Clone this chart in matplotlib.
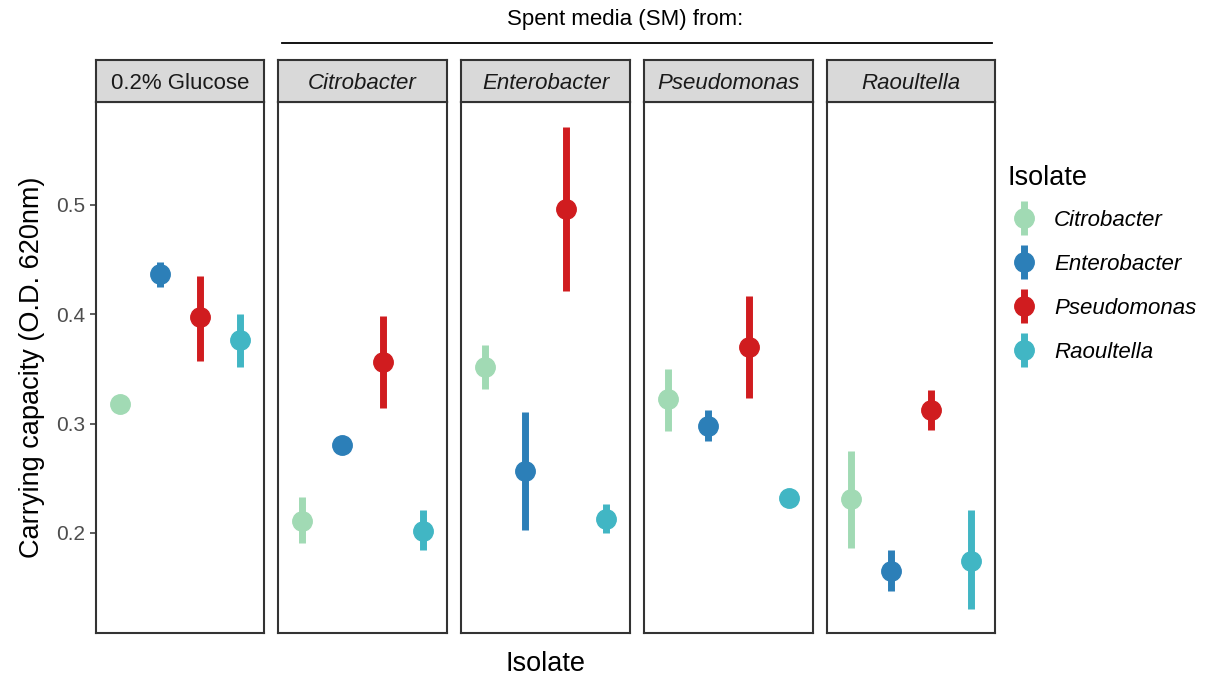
import matplotlib.pyplot as plt
from matplotlib.lines import Line2D
import numpy as np

# carrying capacity per growth medium (rows) and isolate (columns)
media = ['0.2% Glucose', 'Citrobacter', 'Enterobacter', 'Pseudomonas', 'Raoultella']
isolates = ['Citrobacter', 'Enterobacter', 'Pseudomonas', 'Raoultella']
colors = ['#a1dab4', '#2c7fb8', '#d01c1f', '#41b6c4']

k_mean = [
    [0.318, 0.437, 0.397, 0.376],
    [0.211, 0.280, 0.356, 0.202],
    [0.352, 0.257, 0.496, 0.213],
    [0.322, 0.298, 0.370, 0.232],
    [0.231, 0.165, 0.312, 0.174],
]
k_low = [
    [0.318, 0.425, 0.357, 0.352],
    [0.191, 0.280, 0.314, 0.184],
    [0.332, 0.203, 0.421, 0.200],
    [0.293, 0.284, 0.323, 0.232],
    [0.186, 0.147, 0.294, 0.130],
]
k_high = [
    [0.318, 0.448, 0.435, 0.400],
    [0.233, 0.280, 0.398, 0.221],
    [0.372, 0.311, 0.571, 0.226],
    [0.350, 0.312, 0.417, 0.232],
    [0.275, 0.184, 0.331, 0.221],
]

W, H = 1207, 681
plt.rcParams['font.family'] = ['Liberation Sans', 'DejaVu Sans']
fig = plt.figure(figsize=(W / 100, H / 100), dpi=100)

def fig_box(x0, y0, x1, y1):
    # pixel box (top-left origin) -> figure fraction rect
    return [x0 / W, 1 - y1 / H, (x1 - x0) / W, (y1 - y0) / H]

panel_x = [(96, 264), (278, 447), (461, 630), (644, 813), (827, 995)]
frame_col = '#333333'

for m, (x0, x1) in enumerate(panel_x):
    ax = fig.add_axes(fig_box(x0, 102, x1, 633))
    xs = np.arange(1, len(isolates) + 1)
    for i in range(len(isolates)):
        mean = k_mean[m][i]
        err = [[mean - k_low[m][i]], [k_high[m][i] - mean]]
        ax.errorbar(
            xs[i], mean,
            yerr=err,
            fmt='o',
            color=colors[i],
            markersize=14,
            elinewidth=5,
            capsize=0,
        )
    ax.set_xlim(0.4, 4.6)
    ax.set_ylim(0.1085, 0.594)
    ax.set_xticks([])
    for s in ax.spines.values():
        s.set_color(frame_col)
        s.set_linewidth(1.5)
    if m == 0:
        ax.set_yticks([0.2, 0.3, 0.4, 0.5])
        ax.tick_params(axis='y', length=4, width=1.1, color=frame_col,
                       labelcolor='#4d4d4d', labelsize=15, pad=4)
        ax.set_ylabel('Carrying capacity (O.D. 620nm)', fontsize=19.5, labelpad=8)
    else:
        ax.set_yticks([])

    # facet strip
    sx = fig.add_axes(fig_box(x0, 60, x1, 102))
    sx.set_facecolor('#d9d9d9')
    sx.set_xticks([])
    sx.set_yticks([])
    for s in sx.spines.values():
        s.set_color(frame_col)
        s.set_linewidth(1.5)
    sx.text(0.5, 0.45, media[m], transform=sx.transAxes, ha='center', va='center',
            fontsize=16, style='normal' if m == 0 else 'italic', color='#1a1a1a')

# header over the spent-media panels
fig.text(625 / W, 1 - 20 / H, 'Spent media (SM) from:', ha='center', va='center', fontsize=16)
fig.add_artist(Line2D([282 / W, 992 / W], [1 - 43 / H, 1 - 43 / H],
                      color='black', linewidth=1.3))

fig.text(545 / W, 1 - 664 / H, 'Isolate', ha='center', va='center', fontsize=19.5)

# legend keys: point with a vertical interval through it
keys = []
for c in colors:
    bar = Line2D([], [], linestyle='none', marker='|', markersize=25,
                 markeredgewidth=5, color=c)
    dot = Line2D([], [], linestyle='none', marker='o', markersize=14, color=c)
    keys.append((bar, dot))

fig.text(1007 / W, 1 - 178 / H, 'Isolate', ha='left', va='center', fontsize=19.5)
leg = fig.legend(
    handles=keys,
    labels=isolates,
    loc='upper left',
    bbox_to_anchor=(995 / W, 1 - 199 / H),
    frameon=False,
    prop={'size': 16, 'style': 'italic'},
    labelspacing=1.03,
    handlelength=1.6,
    handletextpad=0.55,
    borderpad=0,
)

fig.savefig('out.png', dpi=100)
